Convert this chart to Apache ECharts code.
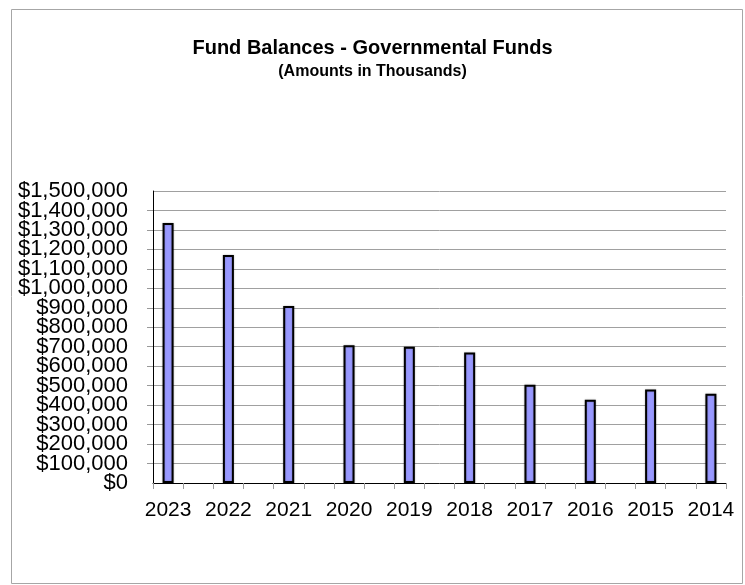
<!DOCTYPE html>
<html>
<head>
<meta charset="utf-8">
<script src="https://cdn.jsdelivr.net/npm/echarts@6/dist/echarts.min.js"></script>
<style>
  html, body { margin: 0; padding: 0; background: #ffffff; }
  #chart { width: 745px; height: 585px; }
</style>
</head>
<body>
<div id="chart"></div>
<script>
// Fiscal years, newest first
const years = ['2023', '2022', '2021', '2020', '2019', '2018', '2017', '2016', '2015', '2014'];
// Governmental fund balances, in thousands of dollars
const balances = [1335000, 1171000, 909000, 707000, 700000, 670000, 505000, 428000, 480000, 458000];
// Value axis range
const axisMax = 1500000;
const axisStep = 100000;

// Each year sits in its own slot with an empty slot between years
const categories = [];
const seriesData = [];
years.forEach(function (y, i) {
  categories.push(y);
  seriesData.push(balances[i]);
  if (i < years.length - 1) {
    categories.push('');
    seriesData.push(null);
  }
});

function money(v) {
  return '$' + Math.round(v).toString().replace(/\B(?=(\d{3})+(?!\d))/g, ',');
}

const FONT = '"Liberation Sans", Arial, sans-serif';
const yLabelStyle = { margin: 25, fontFamily: FONT, fontSize: 22, color: '#000000', formatter: money };

const chart = echarts.init(document.getElementById('chart'), null, { renderer: 'canvas' });

chart.setOption({
  animation: false,
  backgroundColor: '#ffffff',
  title: {
    text: 'Fund Balances - Governmental Funds',
    subtext: '(Amounts in Thousands)',
    left: 'center',
    top: 33,
    itemGap: 6,
    textStyle: { fontFamily: FONT, fontSize: 20, fontWeight: 'bold', color: '#000000' },
    subtextStyle: { fontFamily: FONT, fontSize: 16, fontWeight: 'bold', color: '#000000' }
  },
  graphic: [{
    type: 'rect',
    shape: { x: 11.5, y: 9.5, width: 731, height: 574 },
    style: { fill: 'none', stroke: '#a6a6a6', lineWidth: 1 },
    silent: true,
    z: -1
  }],
  grid: { left: 153, right: 19, top: 191, bottom: 102, containLabel: false },
  xAxis: {
    type: 'category',
    data: categories,
    boundaryGap: true,
    axisLine: { show: true, lineStyle: { color: '#000000', width: 1 } },
    axisTick: { show: true, inside: false, length: 6, interval: 0, alignWithLabel: false, lineStyle: { color: '#999999' } },
    axisLabel: { interval: 0, margin: 17, fontFamily: FONT, fontSize: 21, color: '#000000' },
    splitLine: { show: false }
  },
  yAxis: [{
    // main value axis: line, ticks, grid lines and the inner labels
    type: 'value',
    min: 0,
    max: axisMax,
    interval: axisStep,
    axisLine: { show: true, lineStyle: { color: '#000000', width: 1 } },
    axisTick: { show: true, inside: false, length: 6, lineStyle: { color: '#999999' } },
    axisLabel: Object.assign({ showMinLabel: false, showMaxLabel: false }, yLabelStyle),
    splitLine: { show: true, lineStyle: { color: '#a0a0a0', width: 1 } }
  }, {
    // same scale, carrying only the end labels ($0 and the top)
    type: 'value',
    position: 'left',
    min: 0,
    max: axisMax,
    interval: axisMax,
    axisLine: { show: false },
    axisTick: { show: false },
    axisLabel: Object.assign({ showMinLabel: true, showMaxLabel: true }, yLabelStyle),
    splitLine: { show: false }
  }],
  series: [{
    type: 'bar',
    data: seriesData,
    barWidth: 11,
    itemStyle: {
      color: '#9999ff',
      borderColor: '#000000',
      borderWidth: 2,
      shadowColor: 'rgba(0,0,0,0.25)',
      shadowBlur: 2
    }
  }]
});
</script>
</body>
</html>
